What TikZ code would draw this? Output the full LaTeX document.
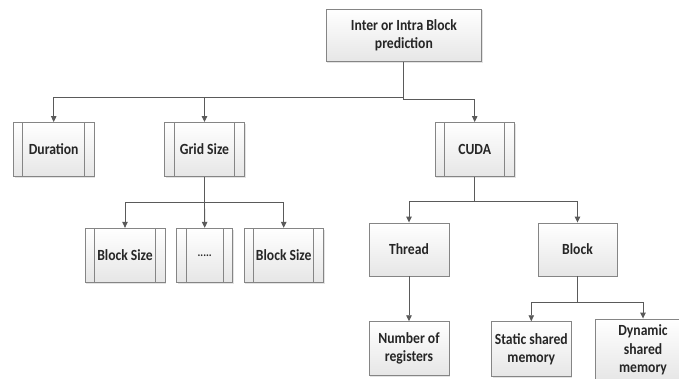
\documentclass[tikz,border=0pt]{standalone}
\usepackage{fontspec}
\setmainfont{Carlito}[FakeStretch=0.88]
\usetikzlibrary{arrows.meta,shadows}
\definecolor{boxedge}{HTML}{858585}
\definecolor{wire}{HTML}{5A5A5A}
\definecolor{ink}{HTML}{262626}
\definecolor{shadebot}{HTML}{E6E6E6}
\tikzset{
  box/.style={draw=boxedge, line width=0.9pt, top color=white, bottom color=shadebot,
    text=ink, font=\bfseries\fontsize{15.5}{18.3}\selectfont, align=center,
    inner sep=0pt, minimum height=54pt, minimum width=80pt,
    drop shadow={shadow xshift=1.2pt, shadow yshift=-1.2pt, fill=black!18, opacity=0.6}},
  procbox/.style={box, path picture={
    \draw[boxedge, line width=0.9pt]
      ([xshift=9.5pt]path picture bounding box.north west) -- ([xshift=9.5pt]path picture bounding box.south west)
      ([xshift=-9.5pt]path picture bounding box.north east) -- ([xshift=-9.5pt]path picture bounding box.south east);}},
  arr/.style={draw=wire, line width=0.9pt, -{Triangle[length=6pt,width=5.5pt]}},
  wireline/.style={draw=wire, line width=0.9pt}
}
\begin{document}
\begin{tikzpicture}[x=1pt, y=-1pt]
  \useasboundingbox (0,0) rectangle (679,378);

  % root
  \node[box, minimum width=155.7pt, minimum height=52.7pt] (root) at (403.9,35.3) {Inter or Intra Block\\prediction};

  % first level
  \node[procbox, minimum width=80.7pt] (dur)  at (53.7,149.5) {Duration};
  \node[procbox, minimum width=79.6pt] (grid) at (204.5,149.5) {Grid Size};
  \node[procbox, minimum width=79.3pt] (cuda) at (474.7,149.5) {CUDA};

  % grid children
  \node[procbox, minimum width=80pt]   (bsa)  at (125,255.3) {Block Size};
  \node[procbox, minimum width=56pt]   (dots) at (204.7,255.3) {\fontsize{12}{14}\selectfont.....};
  \node[procbox, minimum width=79.3pt] (bsb)  at (283.7,255.3) {Block Size};

  % cuda children
  \node[box, minimum height=53pt] (thread) at (409,249.5) {Thread};
  \node[box, minimum width=79pt, minimum height=53pt] (block) at (577.5,249.5) {Block};

  % leaves
  \node[box] (nreg) at (409,348.7) {Number of\\registers};
  \node[box, minimum width=79.3pt, minimum height=55pt] (sshm) at (531.3,349.2) {Static shared\\memory};
  \node[box, minimum width=94.6pt, minimum height=62pt] (dshm) at (643,350) {Dynamic\\shared\\memory};

  % junction points
  \coordinate (ja) at (403.9,97);
  \coordinate (jb) at (403.9,99);
  \coordinate (jg) at (204.5,202.7);
  \coordinate (jc) at (474.7,201);
  \coordinate (jk) at (577.5,302.5);

  % connectors
  \draw[wireline] (root.south) -- (ja);
  \draw[arr] (ja) -| (dur.north);
  \draw[arr] (ja) -| (grid.north);
  \draw[arr] (ja) -- (jb) -| (cuda.north);

  \draw[wireline] (grid.south) -- (jg);
  \draw[arr] (jg) -| (bsa.north);
  \draw[arr] (jg) -- (dots.north);
  \draw[arr] (jg) -| (bsb.north);

  \draw[wireline] (cuda.south) -- (jc);
  \draw[arr] (jc) -| (thread.north);
  \draw[arr] (jc) -| (block.north);

  \draw[arr] (thread.south) -- (nreg.north);

  \draw[wireline] (block.south) -- (jk);
  \draw[arr] (jk) -| (sshm.north);
  \draw[arr] (jk) -| (dshm.north);
\end{tikzpicture}
\end{document}
